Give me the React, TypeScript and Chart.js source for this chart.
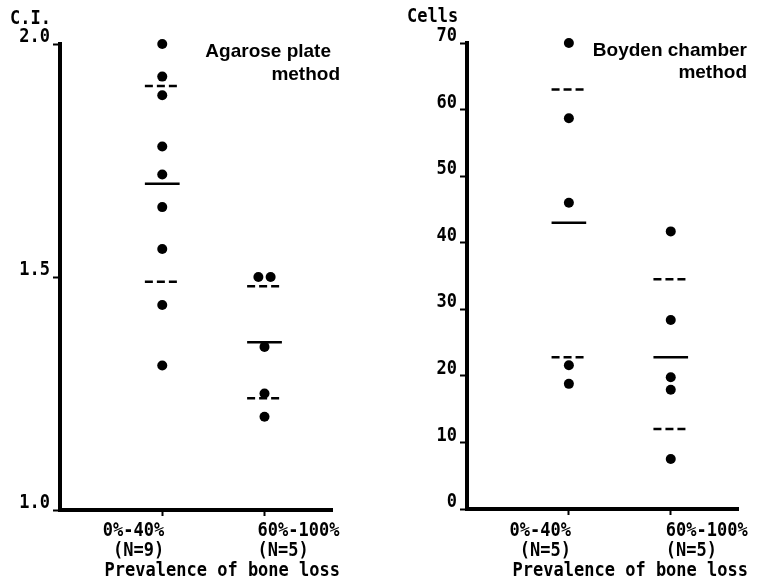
import React, { useEffect, useRef } from "react";
import { Chart, registerables } from "chart.js";

Chart.register(...registerables);

// ---------- data ----------
const agaroseCategories = [["0%-40%", "(N=9)"], ["60%-100%", "(N=5)"]];
const agaroseLow = [2.0, 1.93, 1.89, 1.78, 1.72, 1.65, 1.56, 1.44, 1.31];
const agaroseHigh = [1.5, 1.5, 1.35, 1.25, 1.2];
const agaroseMean = [1.7, 1.36];
const agaroseUpper = [1.91, 1.48];
const agaroseLower = [1.49, 1.24];
const agaroseTicks = [1.0, 1.5, 2.0];

const boydenCategories = [["0%-40%", "(N=5)"], ["60%-100%", "(N=5)"]];
const boydenLow = [70, 58.7, 46, 21.6, 18.8];
const boydenHigh = [41.7, 28.4, 19.8, 17.9, 7.5];
const boydenMean = [43, 22.8];
const boydenUpper = [63, 34.5];
const boydenLower = [22.8, 12];
const boydenTicks = [0, 10, 20, 30, 40, 50, 60, 70];

const xTitle = "Prevalence of bone loss";

// ---------- styling ----------
const MONO = "'DejaVu Sans Mono', monospace";
const SANS = "'Liberation Sans', Arial, sans-serif";
const W = 380;
const H = 585;
const STRETCH = 1.15;

type Panel = {
  categories: string[][];
  groups: number[][];
  mean: number[];
  upper: number[];
  lower: number[];
  yTicks: number[];
  yMin: number;
  yMax: number;
  fmt: (v: number) => string;
  yTitle: string;
  yTitleX: number;
  yTitleY: number;
  legend: { text: string; x: number; y: number }[];
  titleRight: number;
  secondLabelShift: number;
  area: { left: number; right: number; top: number; bottom: number };
};

function spread(values: number[], center: number) {
  const counts: Record<string, number> = {};
  values.forEach((v) => (counts[String(v)] = (counts[String(v)] || 0) + 1));
  const seen: Record<string, number> = {};
  return values.map((v) => {
    const k = String(v);
    const n = counts[k];
    const i = seen[k] || 0;
    seen[k] = i + 1;
    return { x: center + (i - (n - 1) / 2) * 0.12, y: v };
  });
}

function monoText(ctx: CanvasRenderingContext2D, text: string, x: number, y: number, align: CanvasTextAlign) {
  ctx.save();
  ctx.translate(x, y);
  ctx.scale(1, STRETCH);
  ctx.font = `bold 17px ${MONO}`;
  ctx.textAlign = align;
  ctx.textBaseline = "middle";
  ctx.fillText(text, 0, 0);
  ctx.restore();
}

function makeConfig(p: Panel): any {
  const points: { x: number; y: number }[] = [];
  p.groups.forEach((g, i) => points.push(...spread(g, i + 1)));
  const half = 0.17;
  const lineSets: any[] = [];
  p.mean.forEach((m, i) => {
    const c = i + 1;
    const seg = (y: number, dash: number[]) => ({
      type: "line",
      data: [
        { x: c - half, y },
        { x: c + half, y },
      ],
      borderColor: "#000",
      borderWidth: 2.5,
      borderDash: dash,
      pointRadius: 0,
      showLine: true,
      clip: false,
    });
    lineSets.push(seg(m, []));
    lineSets.push(seg(p.upper[i], [8, 4]));
    lineSets.push(seg(p.lower[i], [8, 4]));
  });

  const textPlugin = {
    id: "panelText",
    afterDraw(chart: any) {
      const ctx: CanvasRenderingContext2D = chart.ctx;
      const xs = chart.scales.x;
      const ys = chart.scales.y;
      ctx.save();
      ctx.fillStyle = "#000";
      // y axis title
      monoText(ctx, p.yTitle, p.yTitleX, p.yTitleY, "left");
      // y tick labels
      p.yTicks.forEach((v) => {
        monoText(ctx, p.fmt(v), chart.chartArea.left - 10, ys.getPixelForValue(v) - 7, "right");
      });
      // x category labels
      p.categories.forEach((lines, i) => {
        const px = xs.getPixelForValue(i + 1);
        const first = i === 0;
        const x = first ? px + 2 : px + p.secondLabelShift;
        lines.forEach((t, j) => {
          monoText(ctx, t, x, 531 + j * 20, first ? "right" : "left");
        });
      });
      // x title
      monoText(ctx, xTitle, p.titleRight, 571, "right");
      // legend
      ctx.font = `bold 19px ${SANS}`;
      ctx.textAlign = "right";
      ctx.textBaseline = "alphabetic";
      p.legend.forEach((l) => ctx.fillText(l.text, l.x, l.y));
      ctx.restore();
    },
  };

  return {
    type: "scatter",
    data: {
      datasets: [
        {
          type: "scatter",
          data: points,
          pointRadius: 5,
          pointBackgroundColor: "#000",
          pointBorderWidth: 0,
          clip: false,
        },
        ...lineSets,
      ],
    },
    options: {
      responsive: false,
      maintainAspectRatio: false,
      animation: false,
      events: [],
      layout: {
        padding: { top: p.area.top, right: W - p.area.right, left: 0, bottom: 0 },
      },
      plugins: { legend: { display: false }, tooltip: { enabled: false } },
      scales: {
        x: {
          type: "linear",
          min: 0,
          max: 2.66,
          afterBuildTicks: (s: any) => {
            s.ticks = p.categories.map((_, i) => ({ value: i + 1 }));
          },
          afterFit: (s: any) => {
            s.height = H - p.area.bottom;
          },
          ticks: {
            display: true,
            autoSkip: false,
            maxRotation: 0,
            color: "rgba(0,0,0,0)",
            callback: () => "",
          },
          grid: {
            display: true,
            drawOnChartArea: false,
            drawTicks: true,
            tickLength: 6,
            tickWidth: 2,
            tickColor: "#000",
            color: "#000",
          },
          border: { display: true, color: "#000", width: 4 },
        },
        y: {
          type: "linear",
          min: p.yMin,
          max: p.yMax,
          afterBuildTicks: (s: any) => {
            s.ticks = p.yTicks.map((v) => ({ value: v }));
          },
          afterFit: (s: any) => {
            s.width = p.area.left;
          },
          ticks: {
            display: true,
            color: "rgba(0,0,0,0)",
            callback: () => "",
          },
          grid: {
            display: true,
            drawOnChartArea: false,
            drawTicks: true,
            tickLength: 7,
            tickWidth: 2,
            tickColor: "#000",
            color: "#000",
          },
          border: { display: true, color: "#000", width: 4 },
        },
      },
    },
    plugins: [textPlugin],
  };
}

const leftPanel: Panel = {
  categories: agaroseCategories,
  groups: [agaroseLow, agaroseHigh],
  mean: agaroseMean,
  upper: agaroseUpper,
  lower: agaroseLower,
  yTicks: agaroseTicks,
  yMin: 1.0,
  yMax: 2.0,
  fmt: (v) => v.toFixed(1),
  yTitle: "C.I.",
  yTitleX: 10,
  yTitleY: 19,
  legend: [
    { text: "Agarose plate", x: 331, y: 57 },
    { text: "method", x: 340, y: 80 },
  ],
  titleRight: 340,
  secondLabelShift: -7,
  area: { left: 60, right: 332, top: 44, bottom: 510 },
};

const rightPanel: Panel = {
  categories: boydenCategories,
  groups: [boydenLow, boydenHigh],
  mean: boydenMean,
  upper: boydenUpper,
  lower: boydenLower,
  yTicks: boydenTicks,
  yMin: 0,
  yMax: 70,
  fmt: (v) => String(Math.round(v)),
  yTitle: "Cells",
  yTitleX: 27,
  yTitleY: 17,
  legend: [
    { text: "Boyden chamber", x: 367, y: 56 },
    { text: "method", x: 367, y: 78 },
  ],
  titleRight: 368,
  secondLabelShift: -5,
  area: { left: 87, right: 358, top: 43, bottom: 509 },
};

function PanelChart({ panel }: { panel: Panel }) {
  const ref = useRef<HTMLCanvasElement | null>(null);
  useEffect(() => {
    if (!ref.current) return;
    const chart = new Chart(ref.current, makeConfig(panel));
    return () => chart.destroy();
  }, [panel]);
  return <canvas ref={ref} width={W} height={H} style={{ display: "block", width: W, height: H }} />;
}

export default function App() {
  return (
    <div
      style={{
        position: "absolute",
        left: 0,
        top: 0,
        width: 760,
        height: 585,
        display: "flex",
        background: "#fff",
      }}
    >
      <PanelChart panel={leftPanel} />
      <PanelChart panel={rightPanel} />
    </div>
  );
}
